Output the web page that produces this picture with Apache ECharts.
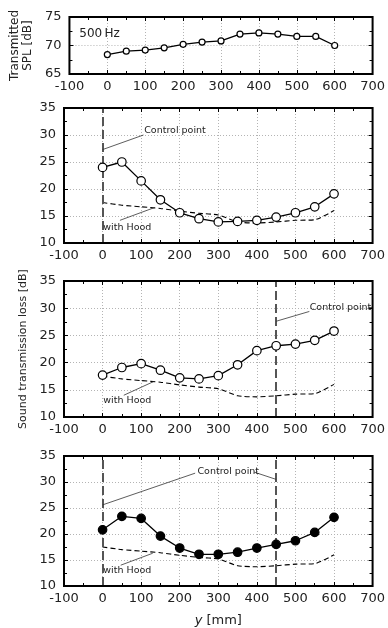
<!DOCTYPE html>
<html>
<head>
<meta charset="utf-8">
<script src="https://cdn.jsdelivr.net/npm/echarts@6/dist/echarts.min.js"></script>
<style>
  html, body { margin: 0; padding: 0; background: #fff; }
  #chart { width: 388px; height: 628px; }
</style>
</head>
<body>
<div id="chart"></div>
<script>
// measurement positions along the hood [mm]
const positions = [0, 50, 100, 150, 200, 250, 300, 350, 400, 450, 500, 550, 600]
const xTicks = [-100, 0, 100, 200, 300, 400, 500, 600, 700]

// transmitted SPL at 500 Hz [dB]
const splValues = [68.4, 69.0, 69.2, 69.6, 70.2, 70.6, 70.8, 72.0, 72.2, 72.0, 71.6, 71.6, 70.0]
// sound transmission loss [dB], one list per control setting
const lossCp0 = [24.0, 25.0, 21.5, 18.0, 15.6, 14.5, 13.9, 14.0, 14.2, 14.8, 15.6, 16.7, 19.1]
const lossCp450 = [17.7, 19.1, 19.8, 18.6, 17.2, 17.0, 17.6, 19.6, 22.2, 23.1, 23.4, 24.1, 25.8]
const lossCpBoth = [20.8, 23.4, 23.0, 19.6, 17.3, 16.1, 16.1, 16.5, 17.3, 18.0, 18.7, 20.3, 23.2]
// passive hood only (dashed reference)
const lossHood = [17.5, 17.0, 16.7, 16.4, 15.9, 15.5, 15.2, 13.9, 13.7, 13.9, 14.2, 14.3, 16.0]

// control point locations per panel
const cpPanel2 = [0]
const cpPanel3 = [450]
const cpPanel4 = [0, 450]

const FONT = 'DejaVu Sans'
const grids = [
  { left: 64, width: 312, top: 17, height: 57 },
  { left: 64, width: 312, top: 108, height: 135 },
  { left: 64, width: 312, top: 281, height: 136 },
  { left: 64, width: 312, top: 456, height: 131 }
]

const pair = (xs, ys) => xs.map((x, i) => [x, ys[i]])

function xAxisFor (gridIndex, position) {
  const main = position === 'bottom'
  return {
    type: 'value',
    gridIndex,
    position,
    min: xTicks[0],
    max: xTicks[xTicks.length - 1],
    interval: 100,
    axisLine: { show: false, onZero: false },
    axisTick: { show: true, inside: true, length: 4, lineStyle: { color: '#000', width: 1 } },
    minorTick: { show: true, splitNumber: 2, length: 3, lineStyle: { color: '#000', width: 1 } },
    axisLabel: { show: main, fontFamily: FONT, fontSize: 13, color: '#222', margin: 6 },
    splitLine: { show: main, lineStyle: { color: '#b4b4b4', type: [1, 2], width: 1 } }
  }
}

function yAxisFor (gridIndex, position, min, max) {
  const main = position === 'left'
  return {
    type: 'value',
    gridIndex,
    position,
    min,
    max,
    interval: 5,
    axisLine: { show: false, onZero: false },
    axisTick: { show: true, inside: true, length: 4, lineStyle: { color: '#000', width: 1 } },
    minorTick: { show: true, splitNumber: 2, length: 3, lineStyle: { color: '#000', width: 1 } },
    axisLabel: { show: main, fontFamily: FONT, fontSize: 13, color: '#222', margin: 8 },
    splitLine: { show: main, lineStyle: { color: '#b4b4b4', type: [1, 2], width: 1 } }
  }
}

const xAxes = []
const yAxes = []
grids.forEach((g, i) => {
  xAxes.push(xAxisFor(i, 'bottom'))
  yAxes.push(yAxisFor(i, 'left', i === 0 ? 65 : 10, i === 0 ? 75 : 35))
})
grids.forEach((g, i) => {
  xAxes.push(xAxisFor(i, 'top'))
  yAxes.push(yAxisFor(i, 'right', i === 0 ? 65 : 10, i === 0 ? 75 : 35))
})

xAxes[3].name = '{i|y} [mm]'
xAxes[3].nameLocation = 'middle'
xAxes[3].nameGap = 28
xAxes[3].nameTextStyle = {
  fontFamily: FONT, fontSize: 13, color: '#222',
  rich: { i: { fontFamily: FONT, fontSize: 13, fontStyle: 'italic', color: '#222' } }
}
yAxes[0].name = 'Transmitted\nSPL [dB]'
yAxes[0].nameLocation = 'middle'
yAxes[0].nameGap = 32
yAxes[0].nameTextStyle = { fontFamily: FONT, fontSize: 12, color: '#222', lineHeight: 13 }
yAxes[2].name = 'Sound transmission loss [dB]'
yAxes[2].nameLocation = 'middle'
yAxes[2].nameGap = 28
yAxes[2].nameTextStyle = { fontFamily: FONT, fontSize: 11, color: '#222' }

const noteText = { show: true, position: 'right', distance: 0, fontFamily: FONT, fontSize: 9.5, color: '#222' }
const leader = { color: '#333', width: 0.8, type: 'solid' }

function note (x, y, text) {
  return { coord: [x, y], label: { formatter: text } }
}
function seg (x1, y1, x2, y2) {
  return [{ coord: [x1, y1] }, { coord: [x2, y2] }]
}

function mainSeries (idx, values, filled) {
  return {
    type: 'line',
    xAxisIndex: idx,
    yAxisIndex: idx,
    data: pair(positions, values),
    symbol: 'circle',
    symbolSize: idx === 0 ? 6 : 8.5,
    itemStyle: { color: filled ? '#000' : '#fff', borderColor: '#000', borderWidth: 1.2 },
    lineStyle: { color: '#000', width: 1.3 },
    z: 5,
    silent: true
  }
}

function hoodSeries (idx, cps, notes, leaders) {
  return {
    type: 'line',
    xAxisIndex: idx,
    yAxisIndex: idx,
    data: pair(positions, lossHood),
    symbol: 'none',
    smooth: 0.2,
    lineStyle: { color: '#000', width: 1.1, type: [5, 3] },
    z: 3,
    silent: true,
    markLine: {
      silent: true,
      symbol: 'none',
      label: { show: false },
      data: cps.map(x => ({ xAxis: x, lineStyle: { color: '#555', width: 2, type: [9, 4] } }))
        .concat(leaders)
    },
    markPoint: {
      silent: true,
      symbol: 'circle',
      symbolSize: 0,
      label: noteText,
      data: notes
    }
  }
}

function leaderLines (list) {
  return list.map(s => [Object.assign({ lineStyle: leader }, s[0]), s[1]])
}

const series = [
  Object.assign(mainSeries(0, splValues, false), {
    markPoint: {
      silent: true,
      symbol: 'circle',
      symbolSize: 0,
      label: { show: true, position: 'right', distance: 0, fontFamily: FONT, fontSize: 12, color: '#222' },
      data: [note(-74, 72.1, '500\u2009Hz')]
    }
  }),
  hoodSeries(1, cpPanel2,
    [note(108, 30.8, 'Control point'), note(2, 12.9, 'with Hood')],
    leaderLines([seg(106, 30.0, 0, 27.3), seg(45, 14.2, 136, 16.6)])),
  mainSeries(1, lossCp0, false),
  hoodSeries(2, cpPanel3,
    [note(537, 30.1, 'Control point'), note(2, 13.0, 'with Hood')],
    leaderLines([seg(536, 29.4, 450, 27.6), seg(690, 30.1, 700, 30.1), seg(55, 14.0, 132, 16.5)])),
  mainSeries(2, lossCp450, false),
  hoodSeries(3, cpPanel4,
    [note(246, 32.1, 'Control point'), note(2, 12.9, 'with Hood')],
    leaderLines([seg(240, 31.7, 0, 25.6), seg(393, 31.9, 450, 30.5), seg(47, 14.0, 130, 16.3)])),
  mainSeries(3, lossCpBoth, true)
]

const chart = echarts.init(document.getElementById('chart'), null, { renderer: 'canvas' })
chart.setOption({
  animation: false,
  backgroundColor: '#fff',
  grid: grids.map(g => Object.assign({ show: true, borderColor: '#000', borderWidth: 2, backgroundColor: 'transparent', z: 10 }, g)),
  xAxis: xAxes,
  yAxis: yAxes,
  series
})
</script>
</body>
</html>
